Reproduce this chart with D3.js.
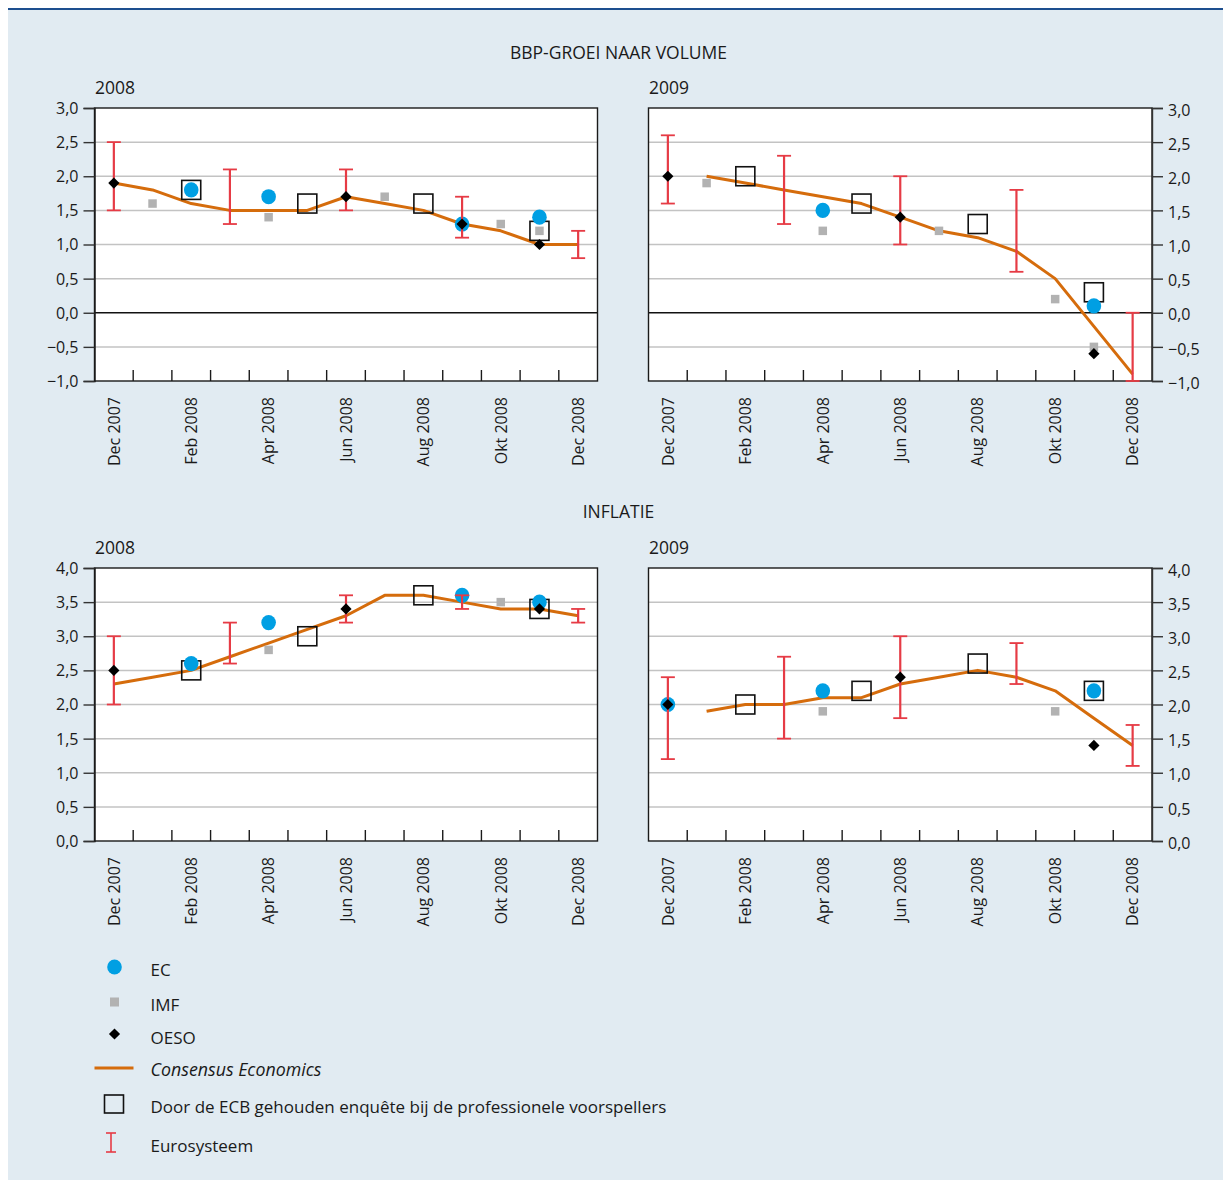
<!DOCTYPE html>
<html>
<head>
<meta charset="utf-8">
<script src="https://cdn.jsdelivr.net/npm/d3@7"></script>
<style>
  html, body { margin: 0; padding: 0; background: #ffffff; }
  svg { display: block; }
  text { font-family: "Open Sans", "Noto Sans", sans-serif; fill: #1a1a1a; }
</style>
</head>
<body>
<script>
// ---------- DATA ----------
const months = ["Dec 2007","Jan 2008","Feb 2008","Mrt 2008","Apr 2008","Mei 2008","Jun 2008",
                "Jul 2008","Aug 2008","Sep 2008","Okt 2008","Nov 2008","Dec 2008"];
const monthTickLabels = ["Dec 2007","Feb 2008","Apr 2008","Jun 2008","Aug 2008","Okt 2008","Dec 2008"];

const gdpTicks = [-1.0,-0.5,0.0,0.5,1.0,1.5,2.0,2.5,3.0];
const inflTicks = [0.0,0.5,1.0,1.5,2.0,2.5,3.0,3.5,4.0];

// BBP-groei 2008
const gdp2008Consensus = [1.9,1.8,1.6,1.5,1.5,1.5,1.7,1.6,1.5,1.3,1.2,1.0,1.0];
const gdp2008EC   = [null,null,1.8,null,1.7,null,null,null,null,1.3,null,1.4,null];
const gdp2008IMF  = [null,1.6,null,null,1.4,null,null,1.7,null,null,1.3,1.2,null];
const gdp2008OESO = [1.9,null,null,null,null,null,1.7,null,null,1.3,null,1.0,null];
const gdp2008SPF  = [null,null,1.8,null,null,1.6,null,null,1.6,null,null,1.2,null];
const gdp2008EuroLow  = [1.5,null,null,1.3,null,null,1.5,null,null,1.1,null,null,0.8];
const gdp2008EuroHigh = [2.5,null,null,2.1,null,null,2.1,null,null,1.7,null,null,1.2];

// BBP-groei 2009
const gdp2009Consensus = [null,2.0,1.9,1.8,1.7,1.6,1.4,1.2,1.1,0.9,0.5,-0.2,-0.9];
const gdp2009EC   = [null,null,null,null,1.5,null,null,null,null,null,null,0.1,null];
const gdp2009IMF  = [null,1.9,null,null,1.2,null,null,1.2,null,null,0.2,-0.5,null];
const gdp2009OESO = [2.0,null,null,null,null,null,1.4,null,null,null,null,-0.6,null];
const gdp2009SPF  = [null,null,2.0,null,null,1.6,null,null,1.3,null,null,0.3,null];
const gdp2009EuroLow  = [1.6,null,null,1.3,null,null,1.0,null,null,0.6,null,null,-1.0];
const gdp2009EuroHigh = [2.6,null,null,2.3,null,null,2.0,null,null,1.8,null,null,0.0];

// Inflatie 2008
const infl2008Consensus = [2.3,2.4,2.5,2.7,2.9,3.1,3.3,3.6,3.6,3.5,3.4,3.4,3.3];
const infl2008EC   = [null,null,2.6,null,3.2,null,null,null,null,3.6,null,3.5,null];
const infl2008IMF  = [null,null,null,null,2.8,null,null,null,null,null,3.5,null,null];
const infl2008OESO = [2.5,null,null,null,null,null,3.4,null,null,null,null,3.4,null];
const infl2008SPF  = [null,null,2.5,null,null,3.0,null,null,3.6,null,null,3.4,null];
const infl2008EuroLow  = [2.0,null,null,2.6,null,null,3.2,null,null,3.4,null,null,3.2];
const infl2008EuroHigh = [3.0,null,null,3.2,null,null,3.6,null,null,3.6,null,null,3.4];

// Inflatie 2009
const infl2009Consensus = [null,1.9,2.0,2.0,2.1,2.1,2.3,2.4,2.5,2.4,2.2,1.8,1.4];
const infl2009EC   = [2.0,null,null,null,2.2,null,null,null,null,null,null,2.2,null];
const infl2009IMF  = [null,null,null,null,1.9,null,null,null,null,null,1.9,null,null];
const infl2009OESO = [2.0,null,null,null,null,null,2.4,null,null,null,null,1.4,null];
const infl2009SPF  = [null,null,2.0,null,null,2.2,null,null,2.6,null,null,2.2,null];
const infl2009EuroLow  = [1.2,null,null,1.5,null,null,1.8,null,null,2.3,null,null,1.1];
const infl2009EuroHigh = [2.4,null,null,2.7,null,null,3.0,null,null,2.9,null,null,1.7];

const sectionTitles = ["BBP-GROEI NAAR VOLUME","INFLATIE"];
const yearLabels = ["2008","2009"];
const legendLabels = ["EC","IMF","OESO","Consensus Economics",
  "Door de ECB gehouden enquête bij de professionele voorspellers","Eurosysteem"];

// ---------- STYLE ----------
const C = {
  bg: "#e1ebf2", topLine: "#1d4f8f", ec: "#009fe3", imf: "#b2b2b2",
  oeso: "#000000", cons: "#d56c0c", spf: "#111111", euro: "#e63b45",
  grid: "#c3c3c3", frame: "#1a1a1a"
};

const W = 1223, H = 1180;
const svg = d3.select("body").append("svg").attr("width", W).attr("height", H);

svg.append("rect").attr("x", 8).attr("y", 9).attr("width", W - 8).attr("height", H - 9).attr("fill", C.bg);
svg.append("line").attr("x1", 8).attr("x2", W).attr("y1", 9).attr("y2", 9)
  .attr("stroke", C.topLine).attr("stroke-width", 2);

const fmt = v => { const s = d3.format(".1f")(Math.abs(v)).replace(".", ","); return (v < 0 ? "\u2212" : "") + s; };

const panels = [
  { x0: 94.5, x1: 597.5, y0: 108, y1: 381, dom: [-1,3], ticks: gdpTicks, side: "left", zero: true,
    cons: gdp2008Consensus, ec: gdp2008EC, imf: gdp2008IMF, oeso: gdp2008OESO, spf: gdp2008SPF, lo: gdp2008EuroLow, hi: gdp2008EuroHigh, year: yearLabels[0] },
  { x0: 648.5, x1: 1152, y0: 108, y1: 381, dom: [-1,3], ticks: gdpTicks, side: "right", zero: true,
    cons: gdp2009Consensus, ec: gdp2009EC, imf: gdp2009IMF, oeso: gdp2009OESO, spf: gdp2009SPF, lo: gdp2009EuroLow, hi: gdp2009EuroHigh, year: yearLabels[1] },
  { x0: 94.5, x1: 597.5, y0: 568, y1: 841, dom: [0,4], ticks: inflTicks, side: "left", zero: false,
    cons: infl2008Consensus, ec: infl2008EC, imf: infl2008IMF, oeso: infl2008OESO, spf: infl2008SPF, lo: infl2008EuroLow, hi: infl2008EuroHigh, year: yearLabels[0] },
  { x0: 648.5, x1: 1152, y0: 568, y1: 841, dom: [0,4], ticks: inflTicks, side: "right", zero: false,
    cons: infl2009Consensus, ec: infl2009EC, imf: infl2009IMF, oeso: infl2009OESO, spf: infl2009SPF, lo: infl2009EuroLow, hi: infl2009EuroHigh, year: yearLabels[1] }
];

// section titles
svg.append("text").attr("x", 618.5).attr("y", 59).attr("text-anchor", "middle")
  .style("font-size", "17.5px").text(sectionTitles[0]);
svg.append("text").attr("x", 618.5).attr("y", 518).attr("text-anchor", "middle")
  .style("font-size", "17.5px").text(sectionTitles[1]);

panels.forEach(p => {
  const g = svg.append("g");
  const x = d3.scaleBand().domain(months).range([p.x0, p.x1]);
  const xc = i => x(months[i]) + x.bandwidth() / 2;
  const y = d3.scaleLinear().domain(p.dom).range([p.y1, p.y0]);

  // plot background
  g.append("rect").attr("x", p.x0).attr("y", p.y0).attr("width", p.x1 - p.x0).attr("height", p.y1 - p.y0)
    .attr("fill", "#ffffff");

  // grid lines
  g.selectAll(".grid").data(p.ticks.filter(t => t !== p.dom[0] && t !== p.dom[1] && !(p.zero && t === 0)))
    .join("line").attr("x1", p.x0).attr("x2", p.x1).attr("y1", d => y(d)).attr("y2", d => y(d))
    .attr("stroke", C.grid).attr("stroke-width", 1.5);
  if (p.zero) {
    g.append("line").attr("x1", p.x0).attr("x2", p.x1).attr("y1", y(0)).attr("y2", y(0))
      .attr("stroke", "#111").attr("stroke-width", 1.5);
  }

  // frame
  g.append("rect").attr("x", p.x0).attr("y", p.y0).attr("width", p.x1 - p.x0).attr("height", p.y1 - p.y0)
    .attr("fill", "none").attr("stroke", C.frame).attr("stroke-width", 1.4);

  // inner x ticks at band boundaries
  g.selectAll(".xt").data(months.slice(1)).join("line")
    .attr("x1", d => x(d)).attr("x2", d => x(d)).attr("y1", p.y1).attr("y2", p.y1 - 11)
    .attr("stroke", C.frame).attr("stroke-width", 1.4);

  // y axis
  const yAxis = (p.side === "left" ? d3.axisLeft(y) : d3.axisRight(y))
    .tickValues(p.ticks).tickFormat(fmt).tickSize(11).tickPadding(5);
  const ya = g.append("g").attr("transform", `translate(${p.side === "left" ? p.x0 : p.x1},0)`).call(yAxis);
  ya.select(".domain").attr("stroke", p.side === "left" ? C.frame : "#333").attr("stroke-width", 1.4);
  ya.selectAll(".tick line").attr("stroke", "#333").attr("stroke-width", 1.4);
  ya.selectAll(".tick text").style("font-size", "16px").attr("fill", "#1a1a1a")
    .style("font-family", "'Open Sans', sans-serif")
    .attr("dy", p.side === "left" ? "0.34em" : "0.45em");

  // x labels
  const xa = d3.axisBottom(x).tickValues(monthTickLabels).tickSize(0).tickPadding(0);
  const xg = g.append("g").attr("transform", `translate(0,${p.y1})`).call(xa);
  xg.select(".domain").remove();
  xg.selectAll(".tick text")
    .attr("transform", "rotate(-90)")
    .attr("x", -16).attr("y", 0).attr("dy", "0.36em")
    .attr("text-anchor", "end")
    .style("font-size", "16px").attr("fill", "#1a1a1a")
    .style("font-family", "'Open Sans', sans-serif");

  // year label
  svg.append("text").attr("x", p.x0 + 0.5).attr("y", p.y0 - 14).style("font-size", "17.5px").text(p.year);

  const idx = d3.range(months.length);

  // consensus line
  const line = d3.line().defined(i => p.cons[i] != null).x(i => xc(i)).y(i => y(p.cons[i]));
  g.append("path").datum(idx).attr("d", line).attr("fill", "none")
    .attr("stroke", C.cons).attr("stroke-width", 3).attr("stroke-linejoin", "round");

  // SPF open squares
  const sq = 19;
  g.selectAll(".spf").data(idx.filter(i => p.spf[i] != null)).join("rect")
    .attr("x", i => xc(i) - sq / 2).attr("y", i => y(p.spf[i]) - sq / 2)
    .attr("width", sq).attr("height", sq).attr("fill", "none")
    .attr("stroke", C.spf).attr("stroke-width", 1.6);

  // IMF grey squares
  const iq = 8.5;
  g.selectAll(".imf").data(idx.filter(i => p.imf[i] != null)).join("rect")
    .attr("x", i => xc(i) - iq / 2).attr("y", i => y(p.imf[i]) - iq / 2)
    .attr("width", iq).attr("height", iq).attr("fill", C.imf);

  // EC circles
  g.selectAll(".ec").data(idx.filter(i => p.ec[i] != null)).join("ellipse")
    .attr("cx", i => xc(i)).attr("cy", i => y(p.ec[i])).attr("rx", 7.3).attr("ry", 7.6)
    .attr("fill", C.ec);

  // Eurosystem ranges
  const ei = idx.filter(i => p.lo[i] != null);
  const eg = g.selectAll(".euro").data(ei).join("g").attr("stroke", C.euro).attr("stroke-width", 2.2);
  eg.append("line").attr("x1", i => xc(i)).attr("x2", i => xc(i))
    .attr("y1", i => y(p.lo[i])).attr("y2", i => y(p.hi[i]));
  eg.append("line").attr("x1", i => xc(i) - 7).attr("x2", i => xc(i) + 7)
    .attr("y1", i => y(p.lo[i])).attr("y2", i => y(p.lo[i])).attr("stroke-width", 1.8);
  eg.append("line").attr("x1", i => xc(i) - 7).attr("x2", i => xc(i) + 7)
    .attr("y1", i => y(p.hi[i])).attr("y2", i => y(p.hi[i])).attr("stroke-width", 1.8);

  // OESO diamonds
  const dsym = d3.symbol().type(d3.symbolDiamond2).size(80);
  g.selectAll(".oeso").data(idx.filter(i => p.oeso[i] != null)).join("path")
    .attr("transform", i => `translate(${xc(i)},${y(p.oeso[i])})`)
    .attr("d", dsym).attr("fill", C.oeso);
});

// ---------- LEGEND ----------
const legY = [970, 1005, 1038, 1070, 1107, 1146];
const lg = svg.append("g");
const symX = 114.5, txtX = 150.5;
lg.append("ellipse").attr("cx", symX).attr("cy", legY[0] - 3).attr("rx", 7.3).attr("ry", 7.6).attr("fill", C.ec);
lg.append("rect").attr("x", symX - 4.5).attr("y", legY[1] - 7.5).attr("width", 9).attr("height", 9).attr("fill", C.imf);
lg.append("path").attr("transform", `translate(${symX},${legY[2] - 4})`)
  .attr("d", d3.symbol().type(d3.symbolDiamond2).size(80)).attr("fill", C.oeso);
lg.append("line").attr("x1", 94.5).attr("x2", 133.5).attr("y1", legY[3] - 2).attr("y2", legY[3] - 2)
  .attr("stroke", C.cons).attr("stroke-width", 3);
lg.append("rect").attr("x", symX - 10).attr("y", legY[4] - 12).attr("width", 19).attr("height", 18)
  .attr("fill", "none").attr("stroke", C.spf).attr("stroke-width", 1.6);
const eu = lg.append("g").attr("stroke", C.euro).attr("stroke-width", 1.6);
eu.append("line").attr("x1", 111).attr("x2", 111).attr("y1", legY[5] - 13).attr("y2", legY[5] + 6);
eu.append("line").attr("x1", 106).attr("x2", 116).attr("y1", legY[5] - 13).attr("y2", legY[5] - 13);
eu.append("line").attr("x1", 106).attr("x2", 116).attr("y1", legY[5] + 6).attr("y2", legY[5] + 6);

lg.selectAll(".lt").data(legendLabels).join("text")
  .attr("x", txtX).attr("y", (d, i) => legY[i] + 6)
  .style("font-size", (d, i) => i === 3 ? "17.8px" : "17px")
  .style("font-style", (d, i) => i === 3 ? "italic" : "normal")
  .text(d => d);
</script>
</body>
</html>
